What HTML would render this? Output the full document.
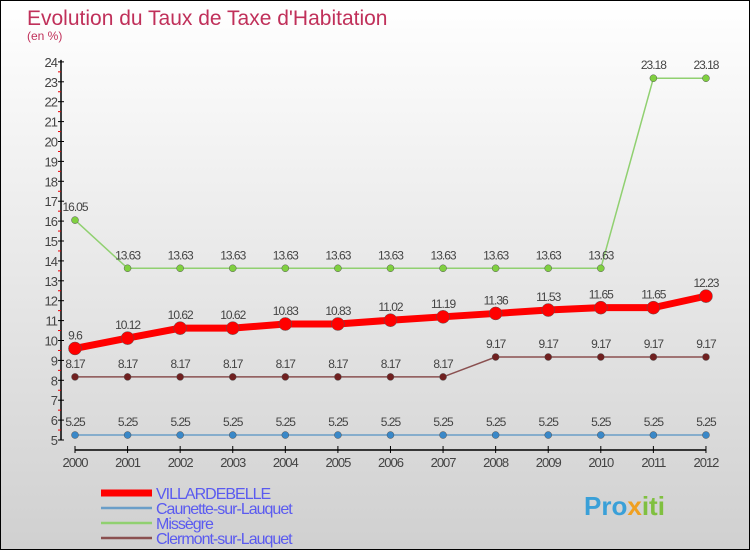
<!DOCTYPE html>
<html><head><meta charset="utf-8"><style>
html,body{margin:0;padding:0}
body{width:750px;height:550px;overflow:hidden;font-family:"Liberation Sans",sans-serif}
#wrap{position:relative;width:748px;height:548px;border:1px solid #000;background:linear-gradient(#ffffff,#d0d0d0)}
</style></head><body>
<div id="wrap">
<svg id="chart" width="748" height="548" style="position:absolute;left:0;top:0">
<text x="26" y="24" font-size="21" fill="#c0305a">Evolution du Taux de Taxe d'Habitation</text>
<text x="26" y="39" font-size="12" fill="#c0305a">(en %)</text>
<g id="axes"></g><g id="series"></g><g id="legend"></g>
<text x="583" y="514" font-size="26" font-weight="bold" fill="#3aa0d8">Pro<tspan fill="#f0a020">x</tspan><tspan fill="#80c040">iti</tspan></text>
</svg>
</div>
<script>
const years=[2000,2001,2002,2003,2004,2005,2006,2007,2008,2009,2010,2011,2012];
const villardebelle=[9.6,10.12,10.62,10.62,10.83,10.83,11.02,11.19,11.36,11.53,11.65,11.65,12.23];
const caunette=[5.25,5.25,5.25,5.25,5.25,5.25,5.25,5.25,5.25,5.25,5.25,5.25,5.25];
const missegre=[16.05,13.63,13.63,13.63,13.63,13.63,13.63,13.63,13.63,13.63,13.63,23.18,23.18];
const clermont=[8.17,8.17,8.17,8.17,8.17,8.17,8.17,8.17,9.17,9.17,9.17,9.17,9.17];
const yTicks=[5,6,7,8,9,10,11,12,13,14,15,16,17,18,19,20,21,22,23,24];
const seriesNames=["VILLARDEBELLE","Caunette-sur-Lauquet","Missègre","Clermont-sur-Lauquet"];
const NS="http://www.w3.org/2000/svg";
function xS(i){return 74+i*52.58;}
function yS(v){return 439-(v-5)*19.9;}
function mk(tag,attrs,parent,txt){const e=document.createElementNS(NS,tag);for(const k in attrs)e.setAttribute(k,attrs[k]);if(txt!==undefined)e.textContent=txt;parent.appendChild(e);return e;}
const ax=document.getElementById('axes');
let e=mk('line',{x1:60,y1:yS(24)-2,x2:60,y2:yS(5),stroke:'#000','stroke-width':1.5},ax);

e=mk('line',{x1:xS(0),y1:449,x2:xS(12),y2:449,stroke:'#000','stroke-width':1.5},ax);

yTicks.forEach(v=>{
  mk('line',{x1:57,y1:yS(v),x2:63,y2:yS(v),stroke:'#000'},ax);
  if(v<24)mk('line',{x1:57,y1:yS(v+0.5),x2:60,y2:yS(v+0.5),stroke:'#e00'},ax);
  const t=mk('text',{x:56,y:yS(v)+5,'font-size':13,fill:'#444','text-anchor':'end','letter-spacing':'-1'},ax,String(v));
  
});
years.forEach((y,i)=>{
  mk('line',{x1:xS(i),y1:445,x2:xS(i),y2:452,stroke:'#000'},ax);
  const t=mk('text',{x:xS(i),y:466,'font-size':13,fill:'#444','text-anchor':'middle','letter-spacing':'-1'},ax,String(y));
  
});
const sg=document.getElementById('series');
function draw(data,color,w,r,name,dot){
  const g=mk('g',{},sg);
  
  mk('polyline',{points:data.map((v,i)=>xS(i)+','+yS(v)).join(' '),fill:'none',stroke:color,'stroke-width':w},g);
  data.forEach((v,i)=>{
    const c=mk('circle',{cx:xS(i),cy:yS(v),r:r,fill:dot,stroke:'#555','stroke-width':0.5},g);
    
    const t=mk('text',{x:xS(i),y:yS(v)-9,'font-size':12,fill:'#444','text-anchor':'middle','letter-spacing':'-1'},g,String(v));
    
  });
}
draw(caunette,'#6a9ec8',1.5,3.5,'series-caunette','#3a88c8');
draw(clermont,'#8a5050',1.5,3.5,'series-clermont','#702020');
draw(missegre,'#90d070',1.5,3.5,'series-missegre','#80d040');
draw(villardebelle,'#ff0000',7,6.5,'series-villardebelle','#ff0000');
const lg=document.getElementById('legend');
const lc=['#ff0000','#6a9ec8','#90d070','#8a5050'],lw=[7,2.5,2.5,2.5];
seriesNames.forEach((n,i)=>{
  const y=492+i*15;
  const g=mk('g',{},lg);
  
  mk('line',{x1:100,y1:y,x2:151,y2:y,stroke:lc[i],'stroke-width':lw[i]},g);
  mk('text',{x:155,y:y+6,'font-size':16,fill:'#5a5af0','letter-spacing':'-1'},g,n);
});
</script>
</body></html>
